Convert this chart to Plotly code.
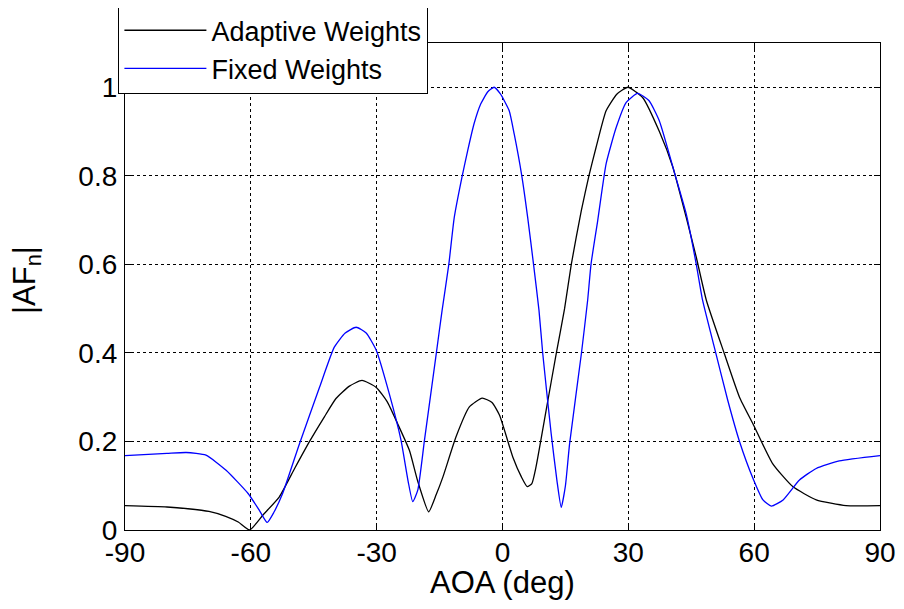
import plotly.graph_objects as go

# Adaptive Weights (black)
adaptive_x = [-90, -80, -75, -70, -66, -63, -60.3, -57, -53.2, -49.5, -46, -42.5, -39.7, -36.5, -33.5,
              -30.1, -27.5, -25, -22.2, -20.2, -17.6, -15.8, -14.2, -11.1, -7.9, -4.85, -2.5, -0.7,
              2.45, 4.5, 5.9, 7.0, 8.0, 10.4, 12.8, 14.8, 16.4, 18.8, 20.6, 22.3, 24.7, 27.3, 29.9,
              33.4, 37.4, 40.6, 43.8, 46.2, 48.6, 52.9, 56.5, 59.7, 64.4, 69.2, 74.8, 81.9, 90]
adaptive_y = [0.055, 0.052, 0.048, 0.042, 0.031, 0.018, 0.0, 0.035, 0.075, 0.14, 0.2, 0.255, 0.297,
              0.325, 0.338, 0.322, 0.29, 0.24, 0.18, 0.11, 0.041, 0.08, 0.12, 0.21, 0.278, 0.298,
              0.288, 0.259, 0.165, 0.12, 0.098, 0.105, 0.143, 0.27, 0.398, 0.5, 0.6, 0.722, 0.8,
              0.864, 0.947, 0.985, 1.0, 0.977, 0.90, 0.82, 0.706, 0.616, 0.519, 0.398, 0.30, 0.24,
              0.15, 0.098, 0.068, 0.055, 0.055]

# Fixed Weights (blue)
fixed_x = [-90, -80, -75.4, -70.7, -65.9, -60.7, -58, -56.1, -54.5, -52.4, -48.4, -43.6, -40.1, -37.5,
           -34.9, -32.5, -30.1, -27.0, -24.2, -22.5, -21.4, -20.2, -18.6, -15.8, -14.4, -12.8, -11.5,
           -9.6, -8.3, -6.8, -5.2, -3.5, -2.0, -0.5, 1.6, 2.8, 4.6, 6.0, 7.4, 8.7, 9.6, 11.6, 13.0,
           14.0, 15.0, 16.0, 18.8, 20.3, 21.1, 22.7, 24.7, 27.1, 29.5, 32.2, 34.9, 37.4, 41.3, 43.8,
           46.2, 47.7, 50.9, 53.7, 56.5, 59.7, 62.1, 64.1, 66.9, 70.8, 74.8, 80.3, 90]
fixed_y = [0.168, 0.173, 0.175, 0.169, 0.135, 0.083, 0.045, 0.017, 0.04, 0.083, 0.195, 0.323, 0.413,
           0.445, 0.458, 0.445, 0.406, 0.308, 0.203, 0.11, 0.064, 0.09, 0.203, 0.398, 0.496, 0.6,
           0.706, 0.8, 0.857, 0.917, 0.962, 0.99, 1.0, 0.985, 0.947, 0.894, 0.8, 0.706, 0.6, 0.496,
           0.398, 0.218, 0.11, 0.051, 0.1, 0.195, 0.398, 0.519, 0.6, 0.699, 0.827, 0.909, 0.966,
           0.986, 0.97, 0.924, 0.797, 0.714, 0.6, 0.519, 0.398, 0.293, 0.2, 0.117, 0.068, 0.054,
           0.068, 0.113, 0.139, 0.156, 0.168]

x_ticks = [-90, -60, -30, 0, 30, 60, 90]
y_ticks = [0, 0.2, 0.4, 0.6, 0.8, 1]
y_tick_text = ["0", "0.2", "0.4", "0.6", "0.8", "1"]

FONT = "Liberation Sans, Arial, sans-serif"

fig = go.Figure()
fig.add_trace(go.Scatter(x=adaptive_x, y=adaptive_y, mode="lines", name="Adaptive Weights",
                         line=dict(color="black", width=1.3, shape="spline", smoothing=0.5)))
fig.add_trace(go.Scatter(x=fixed_x, y=fixed_y, mode="lines", name="Fixed Weights",
                         line=dict(color="blue", width=1.3, shape="spline", smoothing=0.5)))

axis_common = dict(showline=True, linecolor="black", linewidth=1.2, mirror="ticks",
                   ticks="inside", ticklen=6, tickcolor="black", automargin=False,
                   showgrid=True, gridcolor="black", griddash="dot", gridwidth=1,
                   zeroline=False, tickfont=dict(family=FONT, size=28, color="black"))

fig.update_xaxes(range=[-90, 90], tickvals=x_ticks, ticktext=[str(v) for v in x_ticks],
                 ticklabelstandoff=-3, **axis_common)
fig.update_yaxes(range=[0, 1.1], tickvals=y_ticks, ticktext=y_tick_text,
                 ticklabelstandoff=1, **axis_common)

fig.add_annotation(text="AOA (deg)", xref="paper", yref="paper", x=0.5, y=-0.107,
                   xanchor="center", yanchor="middle", showarrow=False,
                   font=dict(family=FONT, size=31, color="black"))
fig.add_annotation(text="|AF<sub>n</sub>|", xref="paper", yref="paper", x=-0.13, y=0.513,
                   xanchor="center", yanchor="middle", showarrow=False, textangle=-90,
                   font=dict(family=FONT, size=31, color="black"))

fig.update_layout(
    width=904, height=609,
    margin=dict(l=117, r=32, t=35, b=87, autoexpand=False),
    paper_bgcolor="white", plot_bgcolor="white",
    showlegend=True,
    legend=dict(x=-0.009, y=1.078, xanchor="left", yanchor="top",
                bgcolor="white", bordercolor="black", borderwidth=1.2,
                font=dict(family=FONT, size=27, color="black"),
                tracegroupgap=0, itemwidth=82,
                entrywidth=360, entrywidthmode="pixels"),
)

fig.write_html("out.html")
